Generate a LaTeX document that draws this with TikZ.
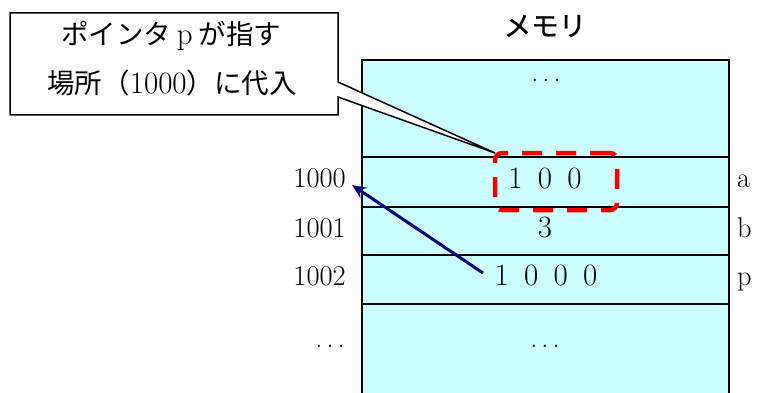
\documentclass[tikz,border=0pt]{standalone}
\usepackage{fontspec}
\newfontfamily\jp{Noto Sans CJK JP}
\newfontfamily\jpb[FakeBold=0.8]{Noto Sans CJK JP}
\usetikzlibrary{arrows.meta}
\definecolor{memcyan}{HTML}{CCFFFF}
\definecolor{ptrnavy}{HTML}{000080}
\newcommand{\fwd}[1]{\makebox[29.5pt]{#1}}
\newcommand{\mydots}{.\hspace{4pt}.\hspace{4pt}.}
\begin{document}
\begin{tikzpicture}[x=1pt,y=-1pt,
  cell/.style={draw=black, fill=memcyan, line width=2pt, inner sep=0pt, outer sep=0pt, minimum width=367pt, anchor=north west},
  lbl/.style={inner sep=0pt, font=\fontsize{28.5}{33}\selectfont},
  val/.style={inner sep=0pt, font=\fontsize{31}{36}\selectfont},
  jptext/.style={inner sep=0pt, font=\fontsize{27.5}{33}\selectfont\jp},
  titletext/.style={inner sep=0pt, font=\fontsize{27.5}{33}\selectfont\jpb},
  hlbox/.style={draw=red, line width=4.5pt, dash pattern=on 20pt off 14pt, rounded corners=7pt, inner sep=0pt, minimum width=122pt, minimum height=57pt},
  ptr/.style={draw=ptrnavy, line width=3pt, -{Stealth[length=14pt,width=12pt]}},
  callout/.style={draw=black, line width=1.5pt, fill=white}
]
\useasboundingbox (0,0) rectangle (760,393);
% memory
\fill[memcyan] (362,60) rectangle (729,393);
\node[cell, minimum height=97pt] (row0) at (362,60) {};
\node[cell, minimum height=50pt] (row1) at (362,157) {};
\node[cell, minimum height=48pt] (row2) at (362,207) {};
\node[cell, minimum height=49pt] (row3) at (362,255) {};
\draw[line width=2pt] (362,304) -- (362,400);
\draw[line width=2pt] (729,304) -- (729,400);
% title
\node[titletext] (title) at (545,26) {メモリ};
% contents
\node[lbl, anchor=base] (dots0) at (546,82) {\mydots};
\node[val, anchor=base] (va) at (545,188) {\fwd{1}\fwd{0}\fwd{0}};
\node[val, anchor=base] (vb) at (545,237) {3};
\node[val, anchor=base] (vp) at (546,285) {\fwd{1}\fwd{0}\fwd{0}\fwd{0}};
\node[lbl, anchor=base] (dots4) at (545,347) {\mydots};
% addresses
\node[lbl, anchor=base east] (ad0) at (346,187) {1000};
\node[lbl, anchor=base east] (ad1) at (346,237) {1001};
\node[lbl, anchor=base east] (ad2) at (346,285) {1002};
\node[lbl, anchor=base east] (ad3) at (345,347) {\mydots};
% names
\node[lbl, anchor=base west] (na) at (737,187) {a};
\node[lbl, anchor=base west] (nb) at (737,237) {b};
\node[lbl, anchor=base west] (np) at (737,285) {p};
% pointer arrow
\coordinate (pstart) at (483,273);
\coordinate (ptip) at (352,185);
\draw[ptr] (pstart) -- (ptip);
% callout
\coordinate (tip) at (495,153);
\draw[callout] (10,13) -- (338,13) -- (338,82) -- (tip) -- (338,97) -- (338,115) -- (10,115) -- cycle;
\node[hlbox] (hl) at (556,181.5) {};
\node[jptext] (c1) at (171,36) {ポインタ\makebox[27.5pt]{\fontsize{31}{33}\selectfont\rmfamily p}が指す};
\node[jptext] (c2) at (172,83) {場所（{\fontsize{31}{33}\selectfont\rmfamily 1000}）に代入};
\end{tikzpicture}
\end{document}
